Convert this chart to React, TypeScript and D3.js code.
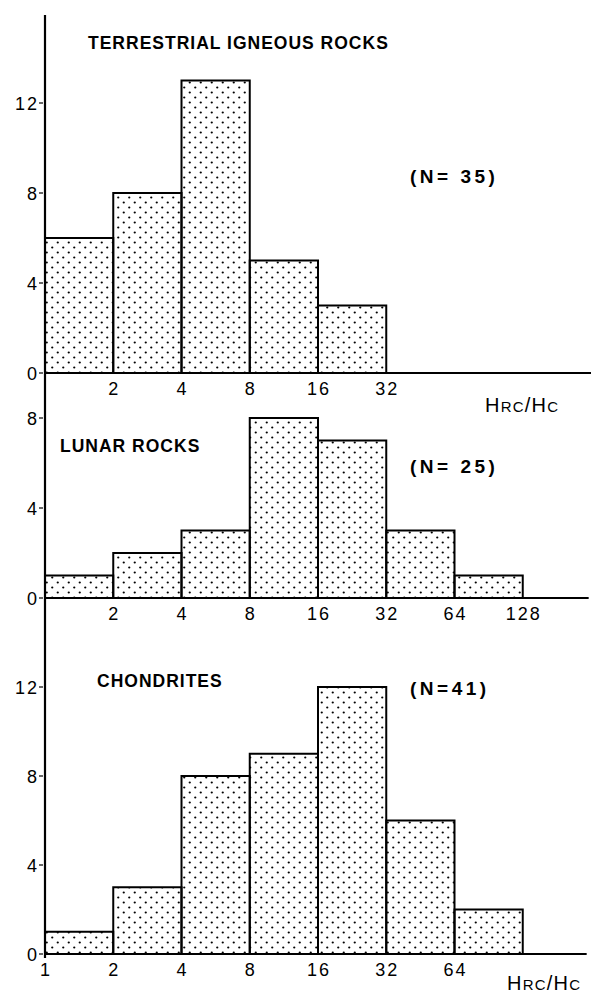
import React from "react";
import * as d3 from "d3";

// bin edges (Hrc/Hc, log2 bins)
const binEdges = [1, 2, 4, 8, 16, 32, 64, 128];

const terrestrialCounts = [6, 8, 13, 5, 3];
const lunarCounts = [1, 2, 3, 8, 7, 3, 1];
const chondriteCounts = [1, 3, 8, 9, 12, 6, 2];

const terrestrialXTicks = [2, 4, 8, 16, 32];
const lunarXTicks = [2, 4, 8, 16, 32, 64, 128];
const chondriteXTicks = [1, 2, 4, 8, 16, 32, 64];

const terrestrialYTicks = [0, 4, 8, 12];
const lunarYTicks = [0, 4, 8];
const chondriteYTicks = [0, 4, 8, 12];

const W = 593;
const H = 996;
const font = "'Liberation Sans', Arial, Helvetica, sans-serif";

const x = d3.scaleLog().base(2).domain([1, 256]).range([45, 591]);

const panels = [
  {
    key: "terr",
    title: "TERRESTRIAL IGNEOUS ROCKS",
    titlePos: [88, 49],
    n: "(N= 35)",
    nPos: [410, 183],
    counts: terrestrialCounts,
    xTicks: terrestrialXTicks,
    yTicks: terrestrialYTicks,
    y: d3.scaleLinear().domain([0, 12]).range([373, 103]),
    axisEnd: 256,
    unitLabel: [485, 412],
  },
  {
    key: "lunar",
    title: "LUNAR ROCKS",
    titlePos: [60, 452],
    n: "(N= 25)",
    nPos: [410, 473],
    counts: lunarCounts,
    xTicks: lunarXTicks,
    yTicks: lunarYTicks,
    y: d3.scaleLinear().domain([0, 8]).range([598, 418]),
    axisEnd: 250,
    unitLabel: null,
  },
  {
    key: "chond",
    title: "CHONDRITES",
    titlePos: [97, 687],
    n: "(N=41)",
    nPos: [410, 695],
    counts: chondriteCounts,
    xTicks: chondriteXTicks,
    yTicks: chondriteYTicks,
    y: d3.scaleLinear().domain([0, 12]).range([954, 687]),
    axisEnd: 245,
    unitLabel: [507, 990],
  },
];

function UnitLabel({ pos }: { pos: number[] }) {
  return (
    <text
      x={pos[0]}
      y={pos[1]}
      fontFamily={font}
      fontSize={20}
      letterSpacing={1.2}
      fill="#000"
    >
      H<tspan fontSize={15}>RC</tspan>/H<tspan fontSize={15}>C</tspan>
    </text>
  );
}

export default function App() {
  return (
    <svg
      width={W}
      height={H}
      style={{ position: "absolute", left: 0, top: 0, background: "#fff" }}
    >
      <defs>
        <pattern id="dots" width={11} height={10} patternUnits="userSpaceOnUse">
          <circle cx={2.75} cy={2.5} r={1.1} fill="#000" />
          <circle cx={8.25} cy={7.5} r={1.1} fill="#000" />
        </pattern>
      </defs>
      <rect width={W} height={H} fill="#fff" />

      {panels.map((p) => (
        <g key={p.key}>
          {/* bars */}
          {p.counts.map((c, i) => (
            <rect
              key={i}
              x={x(binEdges[i])}
              y={p.y(c)}
              width={x(binEdges[i + 1]) - x(binEdges[i])}
              height={p.y(0) - p.y(c)}
              fill="url(#dots)"
              stroke="#000"
              strokeWidth={2}
            />
          ))}
          {/* x axis line */}
          <line
            x1={x(1)}
            x2={x(p.axisEnd)}
            y1={p.y(0)}
            y2={p.y(0)}
            stroke="#000"
            strokeWidth={2}
          />
          {/* x tick labels */}
          {p.xTicks.map((t) => (
            <text
              key={t}
              x={x(t) + 1}
              y={p.y(0) + 22}
              textAnchor="middle"
              fontFamily={font}
              fontSize={18}
              letterSpacing={2}
              fill="#000"
            >
              {t}
            </text>
          ))}
          {/* y ticks */}
          {p.yTicks.map((t) => (
            <g key={t}>
              <line
                x1={x(1) - 6}
                x2={x(1) - 2}
                y1={p.y(t)}
                y2={p.y(t)}
                stroke="#000"
                strokeWidth={1.2}
              />
              <text
                x={x(1) - 6}
                y={p.y(t) + 6.5}
                textAnchor="end"
                fontFamily={font}
                fontSize={18}
                letterSpacing={2}
                fill="#000"
              >
                {t}
              </text>
            </g>
          ))}
          <text
            x={p.titlePos[0]}
            y={p.titlePos[1]}
            fontFamily={font}
            fontSize={17.5}
            fontWeight="bold"
            letterSpacing={1}
            fill="#000"
          >
            {p.title}
          </text>
          <text
            x={p.nPos[0]}
            y={p.nPos[1]}
            fontFamily={font}
            fontSize={19}
            fontWeight="bold"
            letterSpacing={3.5}
            fill="#000"
          >
            {p.n}
          </text>
          {p.unitLabel && <UnitLabel pos={p.unitLabel} />}
        </g>
      ))}

      {/* continuous vertical axis */}
      <line x1={x(1)} x2={x(1)} y1={15} y2={958} stroke="#000" strokeWidth={2.2} />
    </svg>
  );
}
